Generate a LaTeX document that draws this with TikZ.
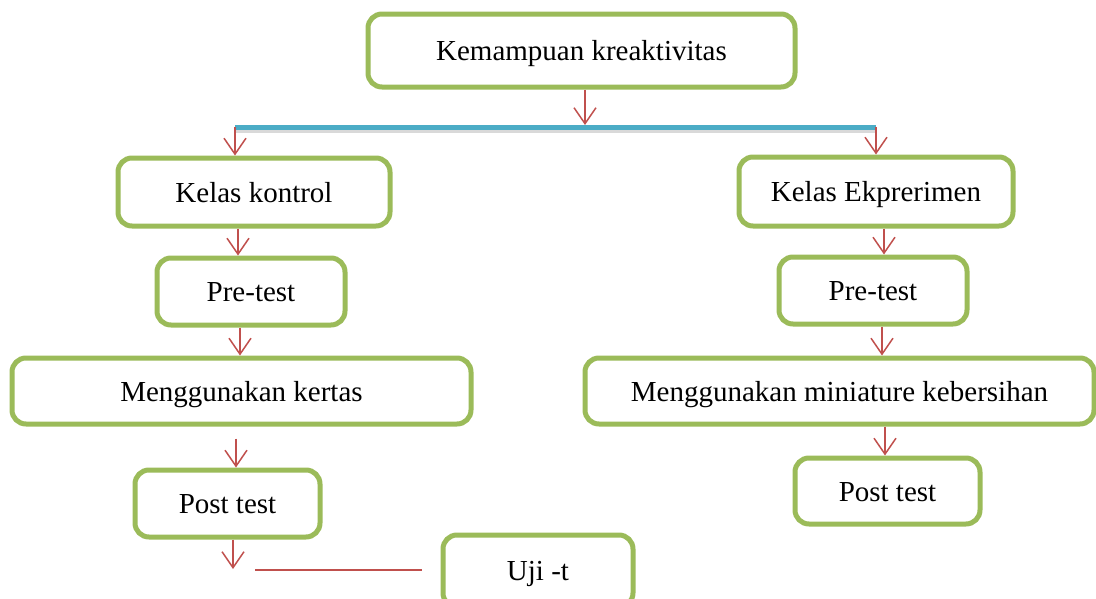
\documentclass[tikz,border=0pt]{standalone}
\usepackage{fontspec}
\setmainfont{Liberation Serif}
\usetikzlibrary{arrows.meta,calc}
\definecolor{boxgreen}{HTML}{9BBB59}
\definecolor{arrred}{HTML}{C0504D}
\definecolor{barteal}{HTML}{4BACC6}
\tikzset{
  flowbox/.style={draw=boxgreen, line width=5pt, rounded corners=14pt, fill=white,
    inner sep=0pt, font=\fontsize{29}{34}\selectfont, text=black,
    text height=22pt, text depth=2pt},
  redarrow/.style={draw=arrred, line width=1.5pt, -{Straight Barb[length=16pt,width=22pt,line width=1.5pt]}},
  redline/.style={draw=arrred, line width=1.5pt},
}
\begin{document}
\begin{tikzpicture}[x=1pt,y=-1pt]
\useasboundingbox (0,0) rectangle (1096,598);
% boxes
\node[flowbox, minimum width=427pt, minimum height=73pt] (top) at (581.5,50.5) {Kemampuan kreaktivitas};
\node[flowbox, minimum width=272pt, minimum height=68pt] (kk) at (254,192) {Kelas kontrol};
\node[flowbox, minimum width=274pt, minimum height=69pt] (ke) at (876,191.5) {Kelas Ekprerimen};
\node[flowbox, minimum width=188pt, minimum height=67pt] (prel) at (251,291.5) {Pre-test};
\node[flowbox, minimum width=188pt, minimum height=67pt] (prer) at (873,290.5) {Pre-test};
\node[flowbox, minimum width=459pt, minimum height=66pt] (mk) at (241.5,391) {Menggunakan kertas};
\node[flowbox, minimum width=509pt, minimum height=66pt] (mm) at (839.5,391) {Menggunakan miniature kebersihan};
\node[flowbox, minimum width=185pt, minimum height=67pt] (ptl) at (227.5,503.5) {Post test};
\node[flowbox, minimum width=185pt, minimum height=66pt] (ptr) at (887.5,491) {Post test};
\node[flowbox, minimum width=190pt, minimum height=72pt] (uji) at (538,571) {};
\node[font=\fontsize{29}{34}\selectfont, text height=22pt, text depth=2pt, inner sep=0pt] (ujit) at (538,570) {Uji -t};
% teal bar with shadow
\coordinate (barL) at (235,127);
\coordinate (barR) at (876,127);
\coordinate (barM) at (585,127);
\draw[black!25, line width=6pt, opacity=0.6] ([yshift=-3pt]barL) -- ([yshift=-3pt]barR);
\draw[barteal, line width=5pt] (barL) -- (barR);
% arrows
\draw[redarrow] (top.south -| barM) -- ([yshift=2pt]barM);
\draw[redarrow] (barL) -- (kk.north -| barL);
\draw[redarrow] (barR) -- (ke.north -| barR);
\coordinate (a1) at (238,0);
\draw[redarrow] (kk.south -| a1) -- (prel.north -| a1);
\coordinate (a2) at (884,0);
\draw[redarrow] (ke.south -| a2) -- (prer.north -| a2);
\coordinate (a3) at (240,0);
\draw[redarrow] (prel.south -| a3) -- (mk.north -| a3);
\coordinate (a4) at (882,0);
\draw[redarrow] (prer.south -| a4) -- (mm.north -| a4);
\coordinate (a5) at (236,0);
\draw[redarrow] ([yshift=-12pt]mk.south -| a5) -- (ptl.north -| a5);
\coordinate (a6) at (885,0);
\draw[redarrow] (mm.south -| a6) -- (ptr.north -| a6);
\coordinate (a7) at (233,0);
\coordinate (a7end) at (233,569);
\draw[redarrow] (ptl.south -| a7) -- (a7end);
\coordinate (l1) at (255,570);
\coordinate (l2) at (422,570);
\draw[redline] (l1) -- (l2);
\end{tikzpicture}
\end{document}
